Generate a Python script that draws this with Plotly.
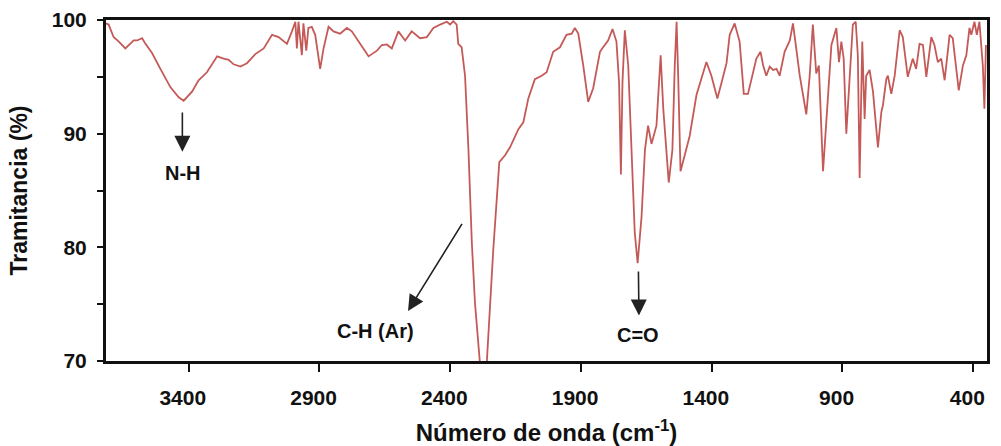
import plotly.graph_objects as go

# espectro IR: numero de onda (cm-1) y transmitancia (%)
wavenumber = [
    3716, 3706, 3687, 3667, 3642, 3610, 3597, 3578, 3565, 3540, 3508, 3470, 3438, 3419,
    3387, 3362, 3330, 3291, 3266, 3247, 3228, 3202, 3177, 3145, 3113, 3081, 3056, 3024,
    3005, 2992, 2986, 2980, 2967, 2961, 2950, 2942, 2929, 2916, 2897, 2884, 2865, 2846,
    2821, 2795, 2776, 2744, 2712, 2680, 2661, 2642, 2623, 2598, 2572, 2547, 2515, 2489,
    2464, 2438, 2413, 2400, 2388, 2375, 2369, 2356, 2343, 2330, 2317, 2305, 2286, 2272,
    2260, 2235, 2212, 2190, 2171, 2139, 2120, 2101, 2076, 2050, 2031, 2006, 1980, 1955,
    1935, 1923, 1910, 1891, 1872, 1853, 1827, 1815, 1796, 1779, 1764, 1754, 1747, 1741,
    1732, 1719, 1707, 1694, 1683, 1668, 1655, 1643, 1630, 1611, 1595, 1585, 1564, 1550,
    1541, 1534, 1528, 1519, 1503, 1484, 1458, 1439, 1420, 1401, 1378, 1362, 1343, 1331,
    1312, 1293, 1277, 1261, 1248, 1229, 1213, 1203, 1191, 1178, 1165, 1152, 1140, 1121,
    1101, 1089, 1063, 1038, 1025, 1013, 1000, 990, 974, 959, 942, 923, 913, 904,
    895, 885, 872, 860, 849, 841, 834, 824, 815, 809, 796, 783, 764, 751,
    745, 732, 726, 713, 700, 681, 669, 650, 631, 618, 605, 592, 579, 560,
    548, 535, 522, 509, 490, 478, 455, 439, 426, 414, 407, 395, 386, 376,
    363, 357, 351,
]
transmittance = [
    99.7, 99.6, 98.5, 98.1, 97.5, 98.2, 98.2, 98.4, 97.9, 97.1, 95.7, 94.1, 93.2, 92.9,
    93.7, 94.7, 95.4, 96.8, 96.6, 96.5, 96.1, 95.9, 96.2, 97.0, 97.5, 98.7, 98.5, 97.9,
    99.0, 99.85, 97.5, 99.85, 96.9, 99.7, 97.3, 99.3, 99.4, 98.7, 95.7, 97.5, 99.4, 99.0,
    98.8, 99.3, 99.0, 97.9, 96.8, 97.3, 97.8, 97.85, 97.5, 99.0, 98.2, 99.0, 98.4, 98.5,
    99.3, 99.6, 99.85, 99.6, 99.9, 99.6, 97.9, 97.6, 95.1, 88.6, 80.4, 75.1, 69.8, 69.3,
    69.8, 79.8, 87.5, 88.1, 88.8, 90.4, 91.0, 93.1, 94.8, 95.1, 95.4, 97.2, 97.6, 98.7,
    98.8, 99.3, 98.8, 96.0, 92.8, 94.0, 97.2, 97.6, 98.2, 99.2, 98.1, 94.5, 86.4, 94.5,
    99.1, 96.0, 88.6, 81.3, 78.6, 82.7, 88.6, 90.7, 89.1, 90.7, 96.9, 92.2, 85.7, 88.6,
    96.0, 99.85, 95.1, 86.7, 88.1, 89.8, 93.4, 94.8, 96.3, 95.1, 93.1, 94.5, 96.2, 98.7,
    99.7, 98.1, 93.5, 93.5, 94.7, 96.6, 97.2, 96.0, 95.1, 95.9, 95.6, 95.7, 95.1, 97.2,
    98.2, 99.7, 95.1, 91.7, 95.1, 99.6, 95.3, 96.0, 86.7, 91.6, 97.8, 99.3, 96.3, 98.1,
    96.6, 90.0, 95.6, 99.6, 99.85, 96.9, 86.1, 98.1, 91.3, 95.1, 95.6, 93.7, 88.8, 91.9,
    92.5, 94.8, 95.1, 93.5, 95.1, 99.1, 98.5, 95.0, 96.6, 95.7, 97.9, 97.8, 95.0, 98.5,
    97.8, 96.3, 96.6, 94.7, 98.7, 98.4, 93.8, 96.0, 96.9, 99.3, 98.7, 99.85, 98.7, 99.85,
    96.0, 92.2, 97.8,
]

x_ticks = [3400, 2900, 2400, 1900, 1400, 900, 400]
y_ticks = [70, 80, 90, 100]

# bandas asignadas: etiqueta, posicion del texto, cola y punta de la flecha
band_labels = ["N-H", "C-H (Ar)", "C=O"]
label_x = [3420, 2687, 1680]
label_y = [86.5, 72.6, 72.3]
arrow_tail_x = [3424, 2351, 1680]
arrow_tail_y = [92.0, 82.2, 78.0]
arrow_head_x = [3424, 2561, 1678]
arrow_head_y = [88.4, 74.4, 74.0]

FONT = "Liberation Sans, Arial, sans-serif"
INK = "#111111"

fig = go.Figure()
fig.add_trace(
    go.Scatter(
        x=wavenumber,
        y=transmittance,
        mode="lines",
        line=dict(color="#c45a58", width=1.8),
        showlegend=False,
    )
)

for i, label in enumerate(band_labels):
    fig.add_annotation(
        x=arrow_head_x[i], y=arrow_head_y[i],
        ax=arrow_tail_x[i], ay=arrow_tail_y[i],
        xref="x", yref="y", axref="x", ayref="y",
        text="", showarrow=True,
        arrowhead=2, arrowsize=2.0, arrowwidth=1.6, arrowcolor="#222222",
    )
    fig.add_annotation(
        x=label_x[i], y=label_y[i], xref="x", yref="y",
        text=f"<b>{label}</b>", showarrow=False,
        font=dict(family=FONT, size=20, color=INK),
    )

fig.update_layout(
    width=1001,
    height=446,
    template="plotly_white",
    plot_bgcolor="#ffffff",
    paper_bgcolor="#ffffff",
    margin=dict(l=106, r=14, t=20, b=85),
    font=dict(family=FONT, color=INK),
)
fig.update_xaxes(
    automargin=False,
    range=[3716, 347],
    tickmode="array",
    tickvals=x_ticks,
    ticktext=[f"<b>{v}</b>&nbsp;&nbsp;" for v in x_ticks],
    tickfont=dict(size=21),
    ticklabeloverflow="allow",
    ticks="outside",
    ticklen=8,
    tickwidth=2,
    tickcolor=INK,
    ticklabelstandoff=8,
    showline=True,
    linewidth=3,
    linecolor=INK,
    mirror=True,
    showgrid=False,
    zeroline=False,
    title=dict(text="<b>Número de onda (cm<sup>-1</sup>)</b>", font=dict(size=24), standoff=18),
)
fig.update_yaxes(
    automargin=False,
    range=[70, 100],
    tickmode="array",
    tickvals=y_ticks,
    ticktext=[f"<b>{v}</b>" for v in y_ticks],
    tickfont=dict(size=21),
    ticks="outside",
    ticklen=6,
    tickwidth=2,
    tickcolor=INK,
    ticklabelstandoff=6,
    minor=dict(dtick=5, ticks="outside", ticklen=6, tickwidth=2, tickcolor=INK, showgrid=False),
    showline=True,
    linewidth=3,
    linecolor=INK,
    mirror=True,
    showgrid=False,
    zeroline=False,
    title=dict(text="<b>Tramitancia (%)</b>", font=dict(size=23), standoff=18),
)

# sin el margen por defecto del body, la figura ocupa la ventana entera
fig.write_html(
    "out.html",
    config={"displayModeBar": False},
    post_script="document.body.style.margin = '0';",
)
